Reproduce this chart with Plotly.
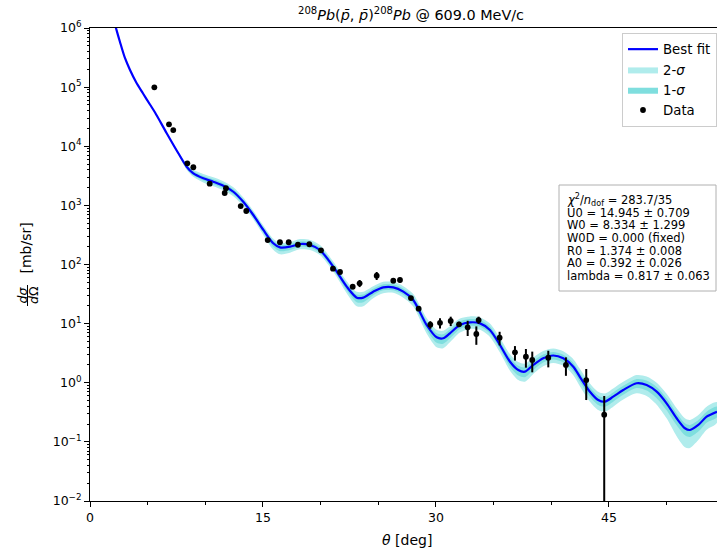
import plotly.graph_objects as go

# ---- measured cross sections -------------------------------------------
theta_data = [5.58, 6.85, 7.22, 8.44, 8.96, 10.38, 11.68, 11.79, 13.07, 13.55,
              15.41, 16.47, 17.23, 18.03, 19.02, 20.03, 21.07, 21.68, 22.78, 23.38,
              24.86, 26.30, 26.88, 27.83, 28.50, 29.51, 30.35, 31.28, 32.00, 32.75,
              33.50, 33.70, 35.52, 36.85, 37.80, 38.35, 39.74, 41.27, 43.03, 44.59]
xs_data = [9.93e4, 2.35e4, 1.88e4, 5150, 4410, 2330, 1620, 1950, 975, 803,
           259, 238, 238, 216, 220, 174, 84.9, 74.7, 42.1, 48.1,
           64.7, 53.2, 54.7, 27.1, 17.9, 9.59, 10.3, 11.1, 9.75, 8.67,
           6.68, 11.5, 5.78, 3.27, 2.76, 2.43, 2.65, 2.00, 1.11, 0.288]
xs_err = [3000, 700, 560, 150, 130, 70, 50, 60, 30, 25,
          8, 7, 7, 6.5, 6.6, 5, 2.5, 2.2, 4, 6.6,
          10, 5, 5, 1.5, 1.0, 1.4, 2.0, 2.0, 1.0, 2.5,
          2.3, 1.6, 1.5, 0.9, 0.96, 0.93, 0.83, 0.69, 0.6, 0.31]

# ---- best-fit optical model curve ----------------------------------------
theta_fit = [1.99, 2.25, 2.60, 3.03, 3.47, 3.99, 4.60, 5.20, 5.64, 6.65,
             7.66, 8.38, 8.96, 9.82, 10.69, 11.56, 12.43, 13.29, 14.16, 15.03,
             15.89, 16.47, 17.34, 18.21, 19.08, 19.94, 21.10, 22.26, 23.13, 23.70,
             24.56, 25.43, 26.30, 27.17, 28.03, 29.19, 30.06, 30.63, 31.21, 32.08,
             32.95, 33.82, 34.68, 35.55, 36.42, 37.14, 37.72, 38.44, 39.30, 40.17,
             41.04, 41.91, 42.49, 43.35, 44.07, 44.65, 45.37, 46.24, 47.40, 48.27,
             49.14, 50.00, 50.87, 51.59, 52.02, 52.75, 53.47, 54.37]
xs_fit = [1.53e6, 1.00e6, 5.80e5, 3.11e5, 1.95e5, 1.22e5, 7.80e4, 5.08e4, 3.72e4, 1.66e4,
          7.60e3, 4.51e3, 3.48e3, 2.87e3, 2.51e3, 2.15e3, 1.70e3, 1.15e3, 687, 384,
          229, 195, 200, 222, 214, 176, 91.8, 42.2, 27.5, 27.5,
          34.7, 41.1, 41.1, 34.7, 25.1, 9.48, 5.87, 5.65, 6.85, 9.48,
          10.5, 10.1, 7.80, 4.35, 2.27, 1.64, 1.54, 2.00, 2.59, 2.89,
          2.59, 1.87, 1.25, 0.706, 0.511, 0.478, 0.581, 0.753, 0.980, 0.916,
          0.706, 0.449, 0.251, 0.170, 0.159, 0.193, 0.267, 0.324]

# confidence bands: upper / lower widths in decades (log10)
sig1_up = [0.005, 0.005, 0.005, 0.005, 0.005, 0.005, 0.005, 0.006, 0.007, 0.008,
           0.014, 0.025, 0.034, 0.039, 0.042, 0.042, 0.042, 0.039, 0.039, 0.042,
           0.042, 0.042, 0.042, 0.047, 0.047, 0.047, 0.047, 0.051, 0.054, 0.054,
           0.051, 0.051, 0.051, 0.051, 0.056, 0.064, 0.068, 0.068, 0.064, 0.059,
           0.056, 0.056, 0.059, 0.064, 0.068, 0.073, 0.073, 0.068, 0.064, 0.059,
           0.059, 0.064, 0.068, 0.071, 0.073, 0.073, 0.073, 0.071, 0.071, 0.076,
           0.081, 0.085, 0.085, 0.085, 0.085, 0.085, 0.085, 0.085]
sig1_dn = [0.005, 0.005, 0.005, 0.005, 0.005, 0.005, 0.005, 0.006, 0.007, 0.008,
           0.014, 0.025, 0.034, 0.039, 0.042, 0.042, 0.042, 0.039, 0.039, 0.047,
           0.059, 0.064, 0.056, 0.047, 0.047, 0.047, 0.047, 0.059, 0.076, 0.076,
           0.059, 0.051, 0.051, 0.051, 0.059, 0.076, 0.093, 0.093, 0.085, 0.068,
           0.059, 0.059, 0.059, 0.068, 0.085, 0.093, 0.093, 0.085, 0.071, 0.068,
           0.068, 0.076, 0.085, 0.085, 0.085, 0.085, 0.085, 0.081, 0.081, 0.093,
           0.110, 0.118, 0.118, 0.118, 0.118, 0.110, 0.101, 0.093]
sig2_up = [0.010, 0.010, 0.010, 0.010, 0.010, 0.010, 0.010, 0.012, 0.014, 0.017,
           0.025, 0.051, 0.059, 0.073, 0.076, 0.076, 0.076, 0.073, 0.073, 0.076,
           0.076, 0.076, 0.076, 0.085, 0.085, 0.085, 0.085, 0.093, 0.101, 0.101,
           0.093, 0.093, 0.093, 0.093, 0.101, 0.118, 0.127, 0.127, 0.118, 0.110,
           0.101, 0.101, 0.110, 0.118, 0.127, 0.135, 0.135, 0.127, 0.122, 0.118,
           0.118, 0.127, 0.135, 0.140, 0.140, 0.140, 0.140, 0.140, 0.140, 0.144,
           0.152, 0.161, 0.169, 0.169, 0.169, 0.169, 0.169, 0.161]
sig2_dn = [0.010, 0.010, 0.010, 0.010, 0.010, 0.010, 0.010, 0.012, 0.014, 0.017,
           0.025, 0.051, 0.059, 0.073, 0.076, 0.076, 0.076, 0.073, 0.073, 0.085,
           0.110, 0.118, 0.101, 0.090, 0.085, 0.085, 0.085, 0.110, 0.144, 0.144,
           0.110, 0.101, 0.093, 0.101, 0.110, 0.144, 0.169, 0.169, 0.152, 0.127,
           0.110, 0.110, 0.118, 0.127, 0.152, 0.169, 0.169, 0.152, 0.135, 0.127,
           0.127, 0.144, 0.161, 0.169, 0.169, 0.169, 0.169, 0.161, 0.169, 0.186,
           0.220, 0.254, 0.304, 0.321, 0.304, 0.254, 0.220, 0.186]

for arr in (xs_fit, sig1_up, sig1_dn, sig2_up, sig2_dn):
    assert len(arr) == len(theta_fit)
assert len(xs_data) == len(theta_data) == len(xs_err)

fit_params = [
    "<i>χ</i><sup>2</sup>/<i>n</i><sub>dof</sub> = 283.7/35",
    "U0 = 14.945 ± 0.709",
    "W0 = 8.334 ± 1.299",
    "W0D = 0.000 (fixed)",
    "R0 = 1.374 ± 0.008",
    "A0 = 0.392 ± 0.026",
    "lambda = 0.817 ± 0.063",
]

y_tick_exp = [-2, -1, 0, 1, 2, 3, 4, 5, 6]
x_ticks = [0, 15, 30, 45]

# ---- geometry --------------------------------------------------------
W, H = 717, 553
ML, MR, MT, MB = 90, 0, 28, 52
PW, PH = W - ML - MR, H - MT - MB
FONT = "DejaVu Sans"


def px(x):
    return (x - ML) / PW


def py(y):
    return 1 - (y - MT) / PH


def band(up, dn):
    upper = [v * 10 ** w for v, w in zip(xs_fit, up)]
    lower = [v * 10 ** (-w) for v, w in zip(xs_fit, dn)]
    return theta_fit + theta_fit[::-1], upper + lower[::-1]


fig = go.Figure()

bx2, by2 = band(sig2_up, sig2_dn)
fig.add_trace(go.Scatter(x=bx2, y=by2, fill="toself", fillcolor="#b0ecec",
                         line=dict(width=0, shape="spline", smoothing=0.8),
                         mode="lines", name="2-<i>σ</i>", legendrank=2,
                         hoverinfo="skip"))
bx1, by1 = band(sig1_up, sig1_dn)
fig.add_trace(go.Scatter(x=bx1, y=by1, fill="toself", fillcolor="#7fdede",
                         line=dict(width=0, shape="spline", smoothing=0.8),
                         mode="lines", name="1-<i>σ</i>", legendrank=3,
                         hoverinfo="skip"))
fig.add_trace(go.Scatter(x=theta_fit, y=xs_fit, mode="lines",
                         line=dict(color="#0000ff", width=2.2, shape="spline", smoothing=0.8),
                         name="Best fit", legendrank=1))
fig.add_trace(go.Scatter(x=theta_data, y=xs_data, mode="markers",
                         marker=dict(color="black", size=5.8),
                         error_y=dict(type="data", array=xs_err, color="black",
                                      thickness=2, width=0),
                         name="Data", legendrank=4))

axis_common = dict(showline=True, linecolor="black", linewidth=1, ticks="outside",
                   ticklen=5, tickwidth=1, tickcolor="black", showgrid=False,
                   zeroline=False, tickfont=dict(family=FONT, size=12.5, color="black"))

fig.update_xaxes(range=[0, 54.37], tickmode="array", tickvals=x_ticks, mirror=True,
                 minor=dict(dtick=5, ticks="outside", ticklen=3, tickcolor="black",
                            showgrid=False),
                 **axis_common)
fig.update_yaxes(type="log", range=[-2, 6], tickmode="array",
                 tickvals=[10.0 ** e for e in y_tick_exp],
                 ticktext=["10<sup>%s</sup>" % (str(e).replace("-", "\u2212")) for e in y_tick_exp],
                 minor=dict(dtick="D1", ticks="outside", ticklen=2.5, tickcolor="black",
                            showgrid=False),
                 **axis_common)

annotations = [
    dict(text="<sup>208</sup><i>Pb</i>(<i>p̄</i>, <i>p̄</i>)<sup>208</sup><i>Pb</i> @ 609.0 MeV/c",
         x=px(411), y=py(14), xanchor="center", yanchor="middle",
         font=dict(family=FONT, size=14.4, color="black")),
    dict(text="<i>θ</i> [deg]", x=px(407), y=py(540), xanchor="center", yanchor="middle",
         font=dict(family=FONT, size=14, color="black")),
    dict(text="[mb/sr]", x=px(25.5), y=py(248), textangle=-90, xanchor="center",
         yanchor="middle", font=dict(family=FONT, size=14, color="black")),
    dict(text="<i>dσ</i>", x=px(21.5), y=py(295), textangle=-90, xanchor="center",
         yanchor="middle", font=dict(family=FONT, size=12.5, color="black")),
    dict(text="<i>d</i>Ω", x=px(33), y=py(295), textangle=-90, xanchor="center",
         yanchor="middle", font=dict(family=FONT, size=12.5, color="black")),
]
line_y = [200, 213, 225.5, 238, 250.5, 263, 275.5]
for txt, yy in zip(fit_params, line_y):
    annotations.append(dict(text=txt, x=px(565), y=py(yy), xanchor="left", yanchor="middle",
                            font=dict(family=FONT, size=11.5, color="black")))
for a in annotations:
    a.update(xref="paper", yref="paper", showarrow=False)

shapes = [
    dict(type="rect", xref="paper", yref="paper", x0=px(559), x1=px(716), y0=py(185), y1=py(291),
         line=dict(color="#b0b0b0", width=1), fillcolor="rgba(255,255,255,0.8)", layer="above"),
    dict(type="line", xref="paper", yref="paper", x0=px(27.5), x1=px(27.5), y0=py(285), y1=py(306),
         line=dict(color="black", width=1)),
]

fig.update_layout(
    width=W, height=H,
    margin=dict(l=ML, r=MR, t=MT, b=MB, pad=0),
    paper_bgcolor="white", plot_bgcolor="white",
    font=dict(family=FONT, color="black"),
    annotations=annotations, shapes=shapes,
    legend=dict(x=1, xanchor="right", y=py(33), yanchor="top",
                bgcolor="rgba(255,255,255,0.8)", bordercolor="#cccccc", borderwidth=1,
                font=dict(family=FONT, size=13.3, color="black"),
                itemwidth=30, tracegroupgap=0),
    showlegend=True,
)

fig.write_html("out.html")
